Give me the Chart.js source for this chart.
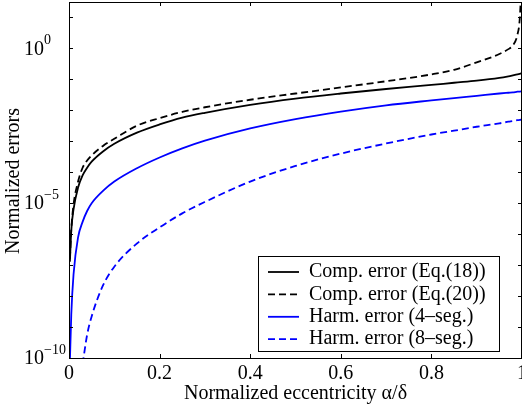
<!DOCTYPE html>
<html>
<head>
<meta charset="utf-8">
<script src="https://cdn.jsdelivr.net/npm/chart.js@4.4.0/dist/chart.umd.min.js"></script>
<style>
  html, body { margin: 0; padding: 0; background: #fff; overflow: hidden; }
  #wrap { position: relative; width: 522px; height: 409px; }
</style>
</head>
<body>
<div id="wrap"><canvas id="chart"></canvas></div>
<script>
// normalized eccentricity (shared x samples)
const ecc = [0.002, 0.005, 0.01, 0.02, 0.03, 0.04, 0.05, 0.075, 0.1, 0.15, 0.2, 0.25, 0.3,
             0.4, 0.5, 0.6, 0.7, 0.8, 0.85, 0.9, 0.95, 0.97, 0.98, 0.99, 0.995, 1.0];

// values
const compErr18 = [1.3e-7, 1.3e-6, 6.3e-6, 3.2e-5, 7.9e-5, 1.4e-4, 2.2e-4, 4.7e-4, 8.3e-4, 1.9e-3, 3.5e-3, 5.8e-3, 8.3e-3,
                   1.5e-2, 2.4e-2, 3.5e-2, 4.9e-2, 6.6e-2, 7.8e-2, 9.1e-2, 0.112, 0.126, 0.135, 0.145, 0.151, 0.158];
const compErr20 = [1.6e-7, 1.4e-6, 8.9e-6, 5.0e-5, 1.4e-4, 2.4e-4, 3.5e-4, 7.1e-4, 1.2e-3, 3.2e-3, 5.6e-3, 8.9e-3, 1.26e-2,
                   2.2e-2, 3.5e-2, 5.5e-2, 8.7e-2, 0.145, 0.204, 0.355, 0.66, 0.95, 1.26, 2.8, 8.9, 316];
const harmErr4 = [7.9e-11, 2.5e-9, 5.0e-8, 7.9e-7, 2.5e-6, 5.6e-6, 1.0e-5, 2.5e-5, 5.0e-5, 1.35e-4, 3.0e-4, 5.9e-4, 1.05e-3,
                  2.6e-3, 5.2e-3, 9.1e-3, 1.45e-2, 2.1e-2, 2.5e-2, 2.95e-2, 3.5e-2, 3.7e-2, 3.8e-2, 4.0e-2, 4.05e-2, 4.1e-2];
const harmErr8 = [null, null, null, null, 6.3e-11, 5.6e-10, 2.2e-9, 2.2e-8, 8.9e-8, 5.0e-7, 1.66e-6, 4.7e-6, 1.1e-5,
                  5.0e-5, 1.6e-4, 4.0e-4, 8.5e-4, 1.66e-3, 2.2e-3, 2.95e-3, 3.8e-3, 4.3e-3, 4.5e-3, 4.8e-3, 4.9e-3, 5.0e-3];

const seriesLabels = ['Comp. error (Eq.(18))', 'Comp. error (Eq.(20))', 'Harm. error (4\u2013seg.)', 'Harm. error (8\u2013seg.)'];

const xTicks = [0, 0.2, 0.4, 0.6, 0.8, 1];
const xTickLabels = ['0', '0.2', '0.4', '0.6', '0.8', '1'];
const yDecades = [-10, -9, -8, -7, -6, -5, -4, -3, -2, -1, 0, 1];
const yLabelExps = [0, -5, -10];

const FONT = '"Liberation Serif", "DejaVu Serif", serif';

function pts(ys) {
  return ecc.map((x, i) => ({x: x, y: ys[i]})).filter(p => p.y !== null);
}

function lineSet(label, ys, color, dash) {
  return {
    label: label,
    data: pts(ys),
    borderColor: color,
    borderWidth: 1.8,
    borderDash: dash,
    pointRadius: 0,
    fill: false,
    cubicInterpolationMode: 'monotone'
  };
}

// matlab-ish box, inward ticks, superscript labels, legend
const matlabFrame = {
  id: 'matlabFrame',
  afterDraw(chart) {
    const ctx = chart.ctx;
    const a = chart.chartArea;
    const xs = chart.scales.x, ys = chart.scales.y;
    ctx.save();
    ctx.strokeStyle = '#000';
    ctx.fillStyle = '#000';
    ctx.lineWidth = 1;
    ctx.setLineDash([]);
    ctx.strokeRect(a.left + 0.5, a.top + 0.5, a.right - a.left - 1, a.bottom - a.top);

    ctx.beginPath();
    xTicks.forEach(v => {
      const px = Math.round(xs.getPixelForValue(v)) + 0.5;
      ctx.moveTo(px, a.bottom); ctx.lineTo(px, a.bottom - 4);
      ctx.moveTo(px, a.top); ctx.lineTo(px, a.top + 4);
    });
    yDecades.forEach(d => {
      const py = Math.round(ys.getPixelForValue(Math.pow(10, d))) + 0.5;
      ctx.moveTo(a.left, py); ctx.lineTo(a.left + 4, py);
      ctx.moveTo(a.right, py); ctx.lineTo(a.right - 4, py);
    });
    ctx.stroke();

    // x tick labels
    ctx.font = '20px ' + FONT;
    ctx.textAlign = 'center';
    ctx.textBaseline = 'middle';
    xTicks.forEach((v, i) => {
      ctx.fillText(xTickLabels[i], xs.getPixelForValue(v), a.bottom + 16);
    });

    // y tick labels 10^n
    yLabelExps.forEach(e => {
      const py = ys.getPixelForValue(Math.pow(10, e));
      ctx.font = '20px ' + FONT;
      ctx.textAlign = 'right';
      ctx.fillText('10', a.left - 25, py + 1);
      ctx.font = '14px ' + FONT;
      ctx.textAlign = 'left';
      ctx.fillText(e < 0 ? '\u2212' + (-e) : String(e), a.left - 25, py - 8);
    });

    // axis titles
    ctx.font = '20px ' + FONT;
    ctx.textAlign = 'center';
    ctx.fillText('Normalized eccentricity \u03b1/\u03b4', (a.left + a.right) / 2, a.bottom + 36);
    ctx.save();
    ctx.translate(14, 181);
    ctx.rotate(-Math.PI / 2);
    ctx.fillText('Normalized errors', 0, 0);
    ctx.restore();

    // legend
    const lx = 258, ly = 256, lw = 241, lh = 95;
    ctx.fillStyle = '#fff';
    ctx.fillRect(lx, ly, lw, lh);
    ctx.strokeRect(lx + 0.5, ly + 0.5, lw, lh);
    ctx.textAlign = 'left';
    chart.data.datasets.forEach((ds, i) => {
      const ry = ly + 16 + i * 22.4;
      ctx.strokeStyle = ds.borderColor;
      ctx.lineWidth = 1.8;
      ctx.setLineDash(ds.borderDash || []);
      ctx.beginPath();
      ctx.moveTo(lx + 10, ry); ctx.lineTo(lx + 41, ry);
      ctx.stroke();
      ctx.setLineDash([]);
      ctx.fillStyle = '#000';
      ctx.fillText(ds.label, lx + 51, ry);
    });
    ctx.restore();
  }
};

new Chart(document.getElementById('chart'), {
  type: 'line',
  data: {
    datasets: [
      lineSet(seriesLabels[0], compErr18, '#000000', []),
      lineSet(seriesLabels[1], compErr20, '#000000', [7, 4]),
      lineSet(seriesLabels[2], harmErr4, '#0000ff', []),
      lineSet(seriesLabels[3], harmErr8, '#0000ff', [7, 4])
    ]
  },
  options: {
    responsive: true,
    maintainAspectRatio: false,
    animation: false,
    devicePixelRatio: 1,
    layout: { padding: { left: 69, right: 0, top: 2, bottom: 51 } },
    plugins: { legend: { display: false }, tooltip: { enabled: false } },
    scales: {
      x: { type: 'linear', min: 0, max: 1, display: false },
      y: { type: 'logarithmic', min: 1e-10, max: Math.pow(10, 1.5), display: false }
    }
  },
  plugins: [matlabFrame]
});
</script>
</body>
</html>
